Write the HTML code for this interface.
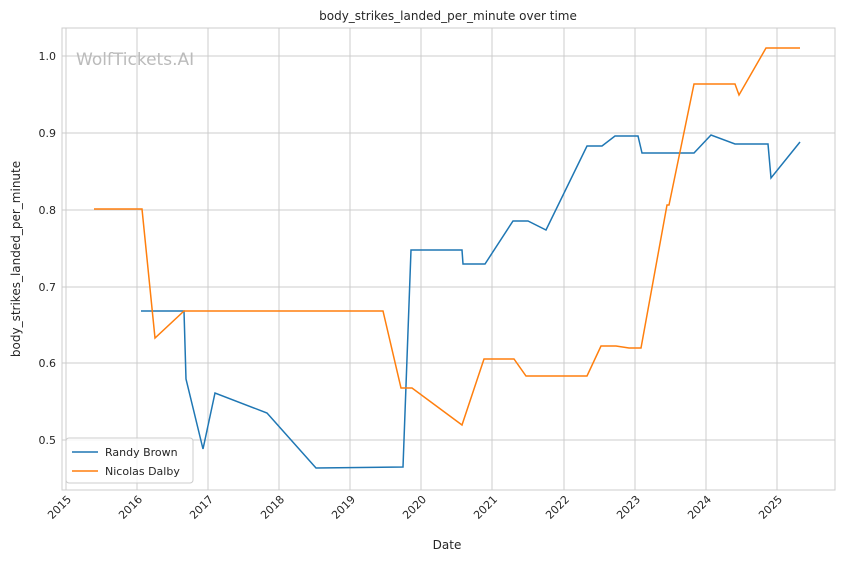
<!DOCTYPE html>
<html><head><style>
body{margin:0;background:#fff;}
svg text{font-family:"DejaVu Sans","Liberation Sans",sans-serif;fill:#262626;}
</style></head><body>
<svg width="844" height="561" viewBox="0 0 844 561" xmlns="http://www.w3.org/2000/svg">
<rect width="844" height="561" fill="#fff"/>
<rect x="62" y="28" width="773" height="462" fill="#fff" stroke="#cccccc" stroke-width="1"/>
<g stroke="#cccccc" stroke-width="1">
<line x1="66" y1="28" x2="66" y2="490"/><line x1="137" y1="28" x2="137" y2="490"/>
<line x1="208" y1="28" x2="208" y2="490"/><line x1="279" y1="28" x2="279" y2="490"/>
<line x1="350" y1="28" x2="350" y2="490"/><line x1="421" y1="28" x2="421" y2="490"/>
<line x1="492" y1="28" x2="492" y2="490"/><line x1="564" y1="28" x2="564" y2="490"/>
<line x1="635" y1="28" x2="635" y2="490"/><line x1="706" y1="28" x2="706" y2="490"/>
<line x1="777" y1="28" x2="777" y2="490"/>
<line x1="62" y1="56" x2="835" y2="56"/><line x1="62" y1="133" x2="835" y2="133"/>
<line x1="62" y1="210" x2="835" y2="210"/><line x1="62" y1="287" x2="835" y2="287"/>
<line x1="62" y1="363" x2="835" y2="363"/><line x1="62" y1="440" x2="835" y2="440"/>
</g>
<text x="76" y="65" font-size="17" style="fill:#bbbbbb">WolfTickets.AI</text>
<g font-size="11" text-anchor="end">
<text x="56" y="60">1.0</text><text x="56" y="137">0.9</text><text x="56" y="214">0.8</text>
<text x="56" y="291">0.7</text><text x="56" y="367">0.6</text><text x="56" y="444">0.5</text>
</g>
<g font-size="11" text-anchor="end">
<text transform="translate(72,500) rotate(-45)">2015</text>
<text transform="translate(143,500) rotate(-45)">2016</text>
<text transform="translate(214,500) rotate(-45)">2017</text>
<text transform="translate(285,500) rotate(-45)">2018</text>
<text transform="translate(356,500) rotate(-45)">2019</text>
<text transform="translate(427,500) rotate(-45)">2020</text>
<text transform="translate(498,500) rotate(-45)">2021</text>
<text transform="translate(570,500) rotate(-45)">2022</text>
<text transform="translate(641,500) rotate(-45)">2023</text>
<text transform="translate(712,500) rotate(-45)">2024</text>
<text transform="translate(783,500) rotate(-45)">2025</text>
</g>
<text x="447" y="549" font-size="12" text-anchor="middle">Date</text>
<text transform="translate(20,259) rotate(-90)" font-size="12" text-anchor="middle">body_strikes_landed_per_minute</text>
<text x="448" y="20" font-size="12" text-anchor="middle">body_strikes_landed_per_minute over time</text>
<polyline fill="none" stroke="#1f77b4" stroke-width="1.5" points="141,311 184,311 186,379 203,449 215,393 267,413 316,468 403,467 411,250 462,250 463,264 485,264 513,221 528,221 546,230 587,146 602,146 615,136 638,136 642,153 694,153 711,135 735,144 768,144 771,178 800,142"/>
<polyline fill="none" stroke="#ff7f0e" stroke-width="1.5" points="94,209 142,209 155,338 184,311 383,311 401,388 412,388 462,425 484,359 514,359 526,376 587,376 601,346 616,346 629,348 641,348 667,205 669,205 694,84 735,84 739,95 766,48 800,48"/>
<rect x="66" y="438" width="127" height="45" rx="3" fill="#fff" fill-opacity="0.8" stroke="#cccccc"/>
<line x1="72" y1="452" x2="98" y2="452" stroke="#1f77b4" stroke-width="1.5"/>
<text x="105" y="456" font-size="11">Randy Brown</text>
<line x1="72" y1="471" x2="98" y2="471" stroke="#ff7f0e" stroke-width="1.5"/>
<text x="105" y="475" font-size="11">Nicolas Dalby</text>
</svg>
</body></html>
